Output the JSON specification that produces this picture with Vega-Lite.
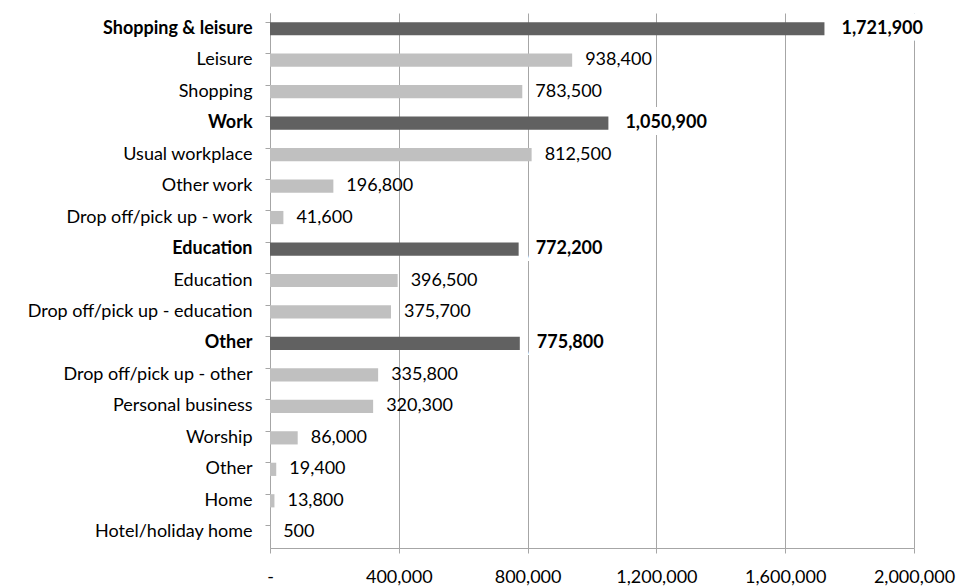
{
  "$schema": "https://vega.github.io/schema/vega-lite/v6.json",
  "width": 644,
  "height": 535,
  "autosize": {"type": "none"},
  "padding": {"left": 270, "top": 13, "right": 44, "bottom": 40},
  "background": "white",
  "config": {
    "view": {"stroke": null},
    "font": "Lato"
  },
  "data": {
    "values": [
      {"key": "Shopping & leisure#", "type": "total", "value": 1721900},
      {"key": "Leisure", "type": "sub", "value": 938400},
      {"key": "Shopping", "type": "sub", "value": 783500},
      {"key": "Work#", "type": "total", "value": 1050900},
      {"key": "Usual workplace", "type": "sub", "value": 812500},
      {"key": "Other work", "type": "sub", "value": 196800},
      {"key": "Drop off/pick up - work", "type": "sub", "value": 41600},
      {"key": "Education#", "type": "total", "value": 772200},
      {"key": "Education", "type": "sub", "value": 396500},
      {"key": "Drop off/pick up - education", "type": "sub", "value": 375700},
      {"key": "Other#", "type": "total", "value": 775800},
      {"key": "Drop off/pick up - other", "type": "sub", "value": 335800},
      {"key": "Personal business", "type": "sub", "value": 320300},
      {"key": "Worship", "type": "sub", "value": 86000},
      {"key": "Other", "type": "sub", "value": 19400},
      {"key": "Home", "type": "sub", "value": 13800},
      {"key": "Hotel/holiday home", "type": "sub", "value": 500}
    ]
  },
  "encoding": {
    "y": {
      "field": "key",
      "type": "nominal",
      "sort": null,
      "scale": {"paddingInner": 0.58, "paddingOuter": 0.29},
      "axis": {
        "title": null,
        "labelExpr": "replace(datum.label, '#', '')",
        "labelFontSize": 18,
        "labelColor": "#000000",
        "labelFontWeight": {"condition": {"test": "indexof(datum.value, '#') >= 0", "value": "bold"}, "value": "normal"},
        "labelPadding": 13,
        "bandPosition": 0,
        "ticks": true,
        "tickSize": 5,
        "tickColor": "#a6a6a6",
        "domainColor": "#a6a6a6",
        "grid": false,
        "labelLimit": 300
      }
    },
    "x": {
      "field": "value",
      "type": "quantitative",
      "scale": {"domain": [0, 2000000], "nice": false},
      "axis": {
        "title": null,
        "values": [0, 400000, 800000, 1200000, 1600000, 2000000],
        "labelExpr": "datum.value == 0 ? '-' : format(datum.value, ',')",
        "labelFontSize": 18,
        "labelColor": "#000000",
        "labelPadding": 15,
        "labelFlush": false,
        "tickSize": 5,
        "tickColor": "#a6a6a6",
        "domainColor": "#a6a6a6",
        "gridColor": "#a6a6a6",
        "grid": true
      }
    }
  },
  "layer": [
    {
      "mark": {"type": "bar"},
      "encoding": {
        "color": {
          "field": "type",
          "type": "nominal",
          "scale": {"domain": ["total", "sub"], "range": ["#616161", "#c0c0c0"]},
          "legend": null
        }
      }
    },
    {
      "transform": [{"filter": "datum.type == 'total'"}],
      "mark": {"type": "text", "align": "left", "baseline": "middle", "dx": 17, "fontSize": 18, "fontWeight": "bold", "stroke": "white", "strokeWidth": 14, "fill": "white"},
      "encoding": {"text": {"field": "value", "type": "quantitative", "format": ","}}
    },
    {
      "transform": [{"filter": "datum.type == 'total'"}],
      "mark": {"type": "text", "align": "left", "baseline": "middle", "dx": 17, "fontSize": 18, "fontWeight": "bold", "fill": "#000000"},
      "encoding": {"text": {"field": "value", "type": "quantitative", "format": ","}}
    },
    {
      "transform": [{"filter": "datum.type == 'sub'"}],
      "mark": {"type": "text", "align": "left", "baseline": "middle", "dx": 13, "fontSize": 18, "fill": "#000000"},
      "encoding": {"text": {"field": "value", "type": "quantitative", "format": ","}}
    }
  ]
}
